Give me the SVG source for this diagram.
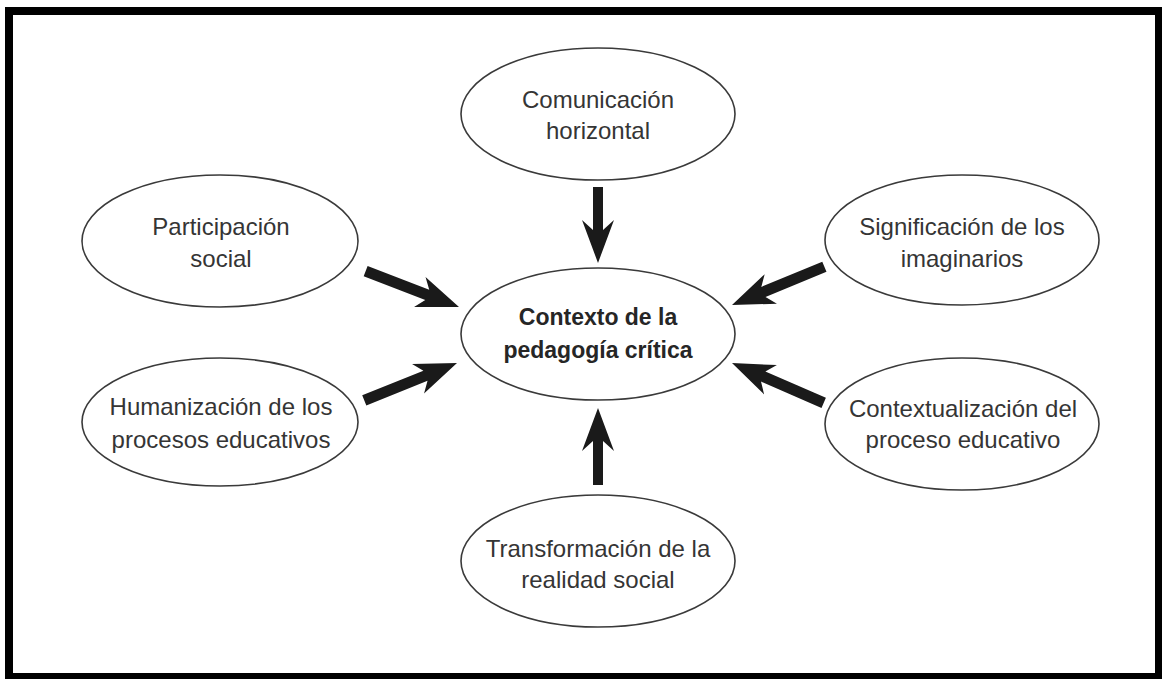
<svg xmlns="http://www.w3.org/2000/svg" width="1162" height="679" viewBox="0 0 1162 679">
<style>
.node ellipse{fill:#fff;stroke:#3a3a3a;stroke-width:1.6}
.node text{font-family:"Liberation Sans",Arial,sans-serif;font-size:24px;fill:#353535;text-anchor:middle}
.node.main text{font-weight:bold;font-size:23px;fill:#262626}
.arrow{fill:#1a1a1a;stroke:none}
</style>
<defs>
<path id="arr" d="M0,0 L-42,-16 L-34,-5.5 L-100,-5.5 L-100,5.5 L-34,5.5 L-42,16 Z"/>
</defs>
<rect x="9" y="11" width="1150" height="666" fill="#fff" stroke="#000" stroke-width="8"/>
<g id="connectors">
<path class="arrow" d="M0,0 L-43,-16 L-33,-5 L-76,-5 L-76,5 L-33,5 L-43,16 Z" transform="translate(598,263) rotate(90)"/>
<path class="arrow" d="M0,0 L-43,-16 L-33,-5 L-77,-5 L-77,5 L-33,5 L-43,16 Z" transform="translate(598,408) rotate(-90)"/>
<use href="#arr" class="arrow" transform="translate(459,307) rotate(21)"/>
<use href="#arr" class="arrow" transform="translate(457,363) rotate(-22)"/>
<use href="#arr" class="arrow" transform="translate(732,305) rotate(157.5)"/>
<use href="#arr" class="arrow" transform="translate(732,363) rotate(-156.5)"/>
</g>
<g id="n-center" class="node main">
<ellipse cx="598" cy="334" rx="137" ry="66"/>
<text x="598" y="325">Contexto de la</text>
<text x="598" y="358">pedagogía crítica</text>
</g>
<g id="n-comunicacion" class="node">
<ellipse cx="598" cy="114" rx="137" ry="66"/>
<text x="598" y="108">Comunicación</text>
<text x="598" y="139">horizontal</text>
</g>
<g id="n-participacion" class="node">
<ellipse cx="220" cy="241" rx="138" ry="66"/>
<text x="221" y="235">Participación</text>
<text x="221" y="267">social</text>
</g>
<g id="n-humanizacion" class="node">
<ellipse cx="220" cy="422" rx="138" ry="64"/>
<text x="221" y="415">Humanización de los</text>
<text x="221" y="448">procesos educativos</text>
</g>
<g id="n-significacion" class="node">
<ellipse cx="962" cy="240" rx="137" ry="65"/>
<text x="962" y="235">Significación de los</text>
<text x="962" y="267">imaginarios</text>
</g>
<g id="n-contextualizacion" class="node">
<ellipse cx="962" cy="424" rx="137" ry="66"/>
<text x="963" y="417">Contextualización del</text>
<text x="963" y="448">proceso educativo</text>
</g>
<g id="n-transformacion" class="node">
<ellipse cx="598" cy="561" rx="137" ry="66"/>
<text x="598" y="557">Transformación de la</text>
<text x="598" y="588">realidad social</text>
</g>
</svg>
